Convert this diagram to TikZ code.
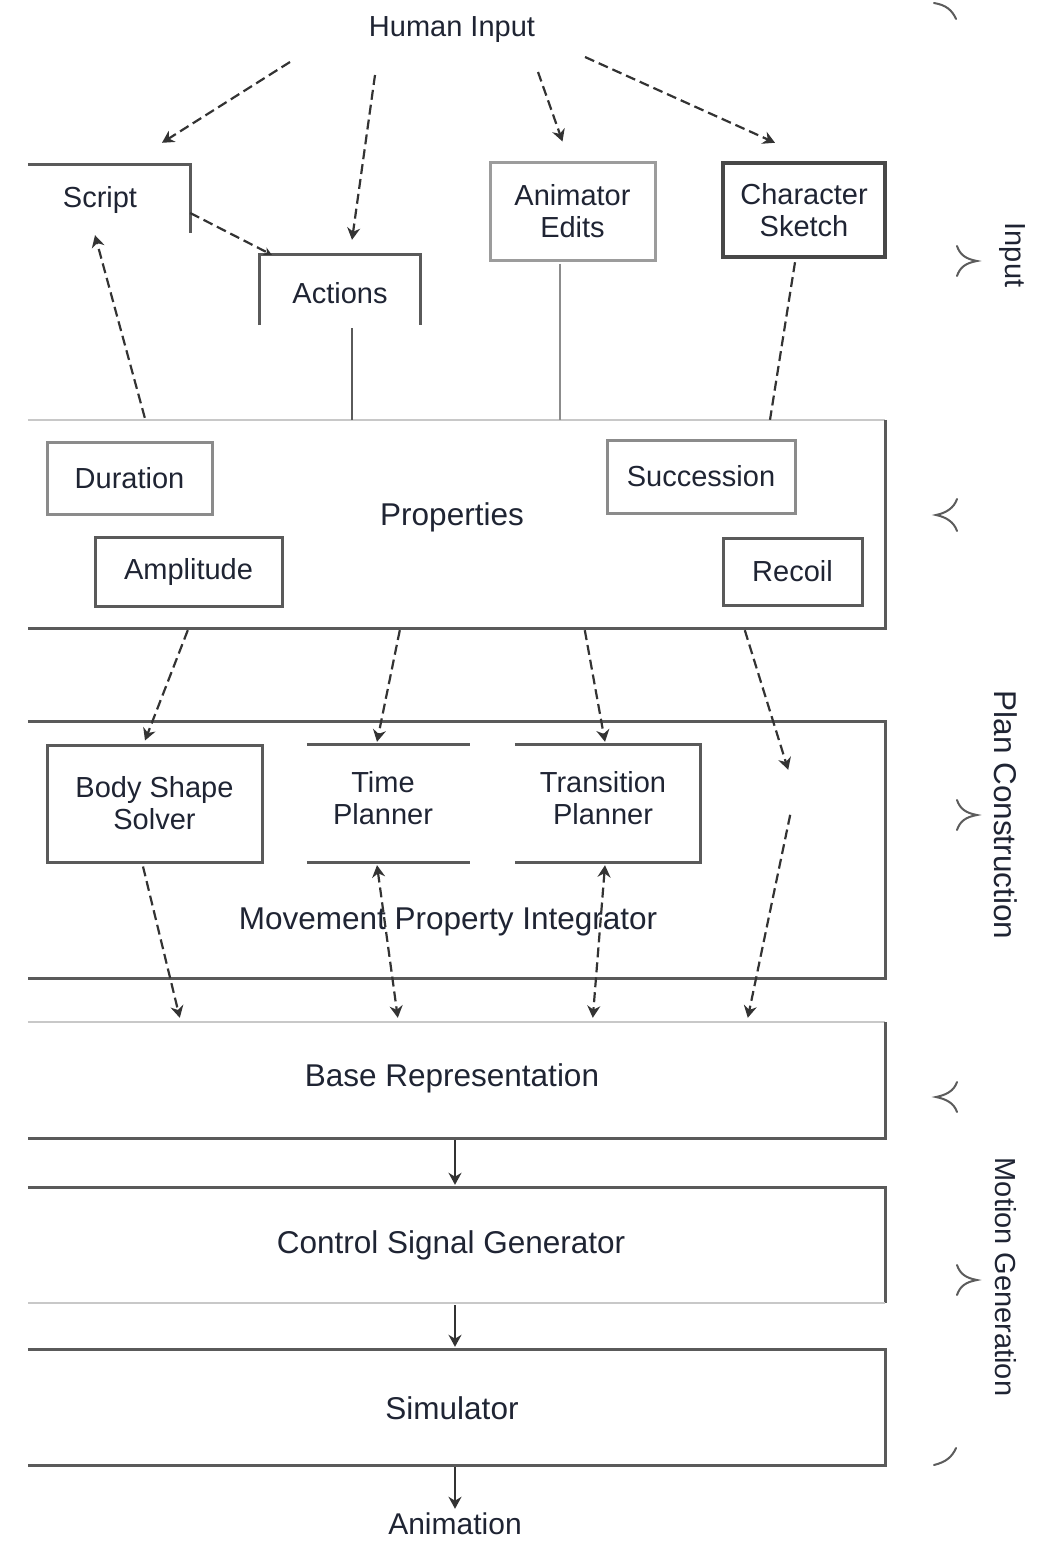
\documentclass[tikz,border=0pt]{standalone}
\usepackage{fontspec}
\setmainfont{Liberation Sans}
\usetikzlibrary{arrows.meta,calc}
\definecolor{framegray}{HTML}{5A5A5A}
\definecolor{paleframe}{HTML}{C8C8C8}
\definecolor{linkgray}{HTML}{333333}
\definecolor{ink}{HTML}{1F2433}
\begin{document}
\begin{tikzpicture}[x=1pt,y=-1pt,
  every node/.style={font=\fontsize{29}{32}\selectfont, text=ink, inner sep=0pt, align=center},
  biglabel/.style={font=\fontsize{31.5}{34}\selectfont},
  area/.style 2 args={rectangle, minimum width=#1, minimum height=#2},
  frame/.style={draw=framegray, line width=3pt},
  paleline/.style={draw=paleframe, line width=2.5pt},
  heavyframe/.style={draw=framegray!80!black, line width=4.5pt},
  tip/.style={-{Stealth[length=12pt,width=13pt]}},
  dlink/.style={draw=linkgray, line width=2.2pt, dash pattern=on 10pt off 5pt, tip},
  dline/.style={draw=linkgray, line width=2.2pt, dash pattern=on 10pt off 5pt},
  dboth/.style={dlink, {Stealth[length=12pt,width=13pt]}-{Stealth[length=12pt,width=13pt]}},
  slink/.style={draw=linkgray, line width=2.2pt, tip},
  sline/.style={draw=paleframe!70!black, line width=2pt},
  brace/.style={draw=linkgray!80, line width=2pt, line cap=round},
  side/.style={rotate=-90}
]
\useasboundingbox (0,0) rectangle (1047,1541);

% ---------- input row ----------
\node (hi) at (452,30) {Human Input};

\node[area={162pt}{68pt}] (script) at (109,199) {};
\node (scripttext) at (100,200) {Script};
\draw[frame] (script.north west) -- (script.north east) -- (script.south east);

\node[area={160pt}{70pt}] (actions) at (340,290) {};
\node at (340,293) {Actions};
\draw[frame] (actions.south west) -- (actions.north west) -- (actions.north east) -- (actions.south east);

\node[area={165pt}{97pt}, draw=paleframe!60!framegray, line width=3pt] (edits) at (572.5,211.5) {Animator\\Edits};
\node[area={162pt}{94pt}, heavyframe] (sketch) at (804,210) {Character\\Sketch};

% ---------- properties ----------
\node[area={857pt}{208pt}] (props) at (456.5,524) {};
\node[biglabel] at (452,517) {Properties};
\draw[paleline] (props.north west) -- (props.north east);
\draw[frame] (props.north east) -- (props.south east) -- (props.south west);

\node[area={165pt}{72pt}, frame, draw=framegray!70] (dur) at (129.5,478) {Duration};
\node[area={187pt}{69pt}, frame] (amp) at (188.5,571.5) {Amplitude};
\node[area={188pt}{73pt}, frame, draw=framegray!70] (succ) at (701,476.5) {Succession};
\node[area={139pt}{67pt}, frame] (recoil) at (792.5,571.5) {Recoil};

% ---------- movement property integrator ----------
\node[area={857pt}{256pt}] (mpi) at (456.5,850) {};
\node[biglabel] at (448,922) {Movement Property Integrator};
\draw[frame] (mpi.north west) -- (mpi.north east) -- (mpi.south east) -- (mpi.south west);

\node[area={215pt}{117pt}, frame] (body) at (154.5,803.5) {Body Shape\\Solver};
\node[area={163pt}{117pt}] (time) at (388.5,803.5) {};
\node at (383,798) {Time\\Planner};
\draw[frame] (time.north west) -- (time.north east);
\draw[frame] (time.south west) -- (time.south east);
\node[area={185pt}{117pt}] (trans) at (607.5,803.5) {};
\node at (603,798) {Transition\\Planner};
\draw[frame] (trans.north west) -- (trans.north east) -- (trans.south east) -- (trans.south west);

% ---------- motion generation ----------
\node[area={857pt}{116pt}] (base) at (456.5,1080) {};
\node[biglabel] at (452,1078) {Base Representation};
\draw[paleline] (base.north west) -- (base.north east);
\draw[frame] (base.north east) -- (base.south east) -- (base.south west);

\node[area={857pt}{115pt}] (ctrl) at (456.5,1245.5) {};
\node[biglabel] at (451,1245) {Control Signal Generator};
\draw[frame] (ctrl.north west) -- (ctrl.north east) -- (ctrl.south east);
\draw[paleline] (ctrl.south east) -- (ctrl.south west);

\node[area={857pt}{115pt}] (sim) at (456.5,1407.5) {};
\node[biglabel] at (452,1408) {Simulator};
\draw[frame] (sim.north west) -- (sim.north east) -- (sim.south east) -- (sim.south west);

\node[font=\fontsize{30}{32}\selectfont] (anim) at (455,1524) {Animation};

% ---------- connectors: input ----------
\draw[dlink] ($(hi)+(-162,32)$) -- ($(script.north)+(53,-22)$);
\draw[dlink] ($(hi)+(-77,45)$) -- ($(actions.north)+(12,-15)$);
\draw[dlink] ($(hi)+(86,42)$) -- ($(edits.north)+(-10,-20)$);
\draw[dlink] ($(hi)+(133,27)$) -- ($(sketch.north)+(-29,-18)$);
\draw[dlink, -{Stealth[length=8pt,width=8pt]}] ($(script.east)+(0,14)$) -- ($(actions.north west)+(12,0)$);
\draw[dlink] ($(props.north west)+(117,-2)$) -- ($(script.south)+(-14,2)$);

\coordinate (actfoot) at ($(actions.south)+(12,3)$);
\draw[draw=framegray, line width=2.5pt] (actfoot) -- (actfoot |- props.north);
\coordinate (editfoot) at ($(edits.south)+(-12.5,2)$);
\draw[sline] (editfoot) -- (editfoot |- props.north);
\draw[dline] ($(sketch.south)+(-9,3)$) -- ($(props.north)+(313.5,0)$);

% ---------- connectors: plan construction ----------
\draw[dlink] ($(props.south west)+(160,2)$) -- ($(body.north)+(-9.5,-3)$);
\draw[dlink] ($(props.south west)+(372,2)$) -- ($(time.north)+(-11.5,-3)$);
\draw[dlink] ($(props.south west)+(557,2)$) -- ($(trans.north)+(-2.5,-3)$);
\coordinate (gapin) at ($(mpi.north east)+(-97,48)$);
\coordinate (gapout) at ($(mpi.north east)+(-95,93)$);
\draw[dlink] ($(props.south west)+(717,2)$) -- (gapin);
\draw[dlink] (gapout) -- ($(base.north west)+(720,-4)$);

\draw[dlink] ($(body.south)+(-11.5,3)$) -- ($(base.north west)+(152,-4)$);
\draw[dboth] ($(time.south)+(-11.5,3)$) -- ($(base.north west)+(370,-4)$);
\draw[dboth] ($(trans.south)+(-2.5,3)$) -- ($(base.north west)+(565,-4)$);

% ---------- connectors: motion generation ----------
\draw[slink] ($(base.south)+(-1.5,2)$) -- ($(ctrl.north)+(-1.5,-3)$);
\draw[slink] ($(ctrl.south)+(-1.5,2)$) -- ($(sim.north)+(-1.5,-3)$);
\draw[slink] ($(sim.south)+(-1.5,2)$) -- ($(anim.north)+(0,-4)$);

% ---------- stage brackets ----------
\draw[brace] (934,3) .. controls (946,5) and (952,10) .. (956,19);
\draw[brace] (957,246) .. controls (960,255) and (966,259) .. (977,261)
             .. controls (966,263) and (960,267) .. (957,276);
\draw[brace] (957,499) .. controls (954,508) and (946,513) .. (936,515)
             .. controls (946,517) and (954,522) .. (957,531);
\draw[brace] (957,800) .. controls (960,809) and (966,813) .. (977,815)
             .. controls (966,817) and (960,821) .. (957,830);
\draw[brace] (957,1082) .. controls (954,1091) and (946,1095) .. (936,1097)
             .. controls (946,1099) and (954,1103) .. (957,1112);
\draw[brace] (957,1265) .. controls (960,1274) and (966,1278) .. (977,1280)
             .. controls (966,1282) and (960,1286) .. (957,1295);
\draw[brace] (956,1448) .. controls (952,1457) and (946,1462) .. (934,1465);

\node[side] (lblin) at (1012,255) {Input};
\node[side, font=\fontsize{31.5}{34}\selectfont] (lblplan) at (1006,815) {Plan Construction};
\node[side] (lblmotion) at (1006,1277) {Motion Generation};
\end{tikzpicture}
\end{document}
